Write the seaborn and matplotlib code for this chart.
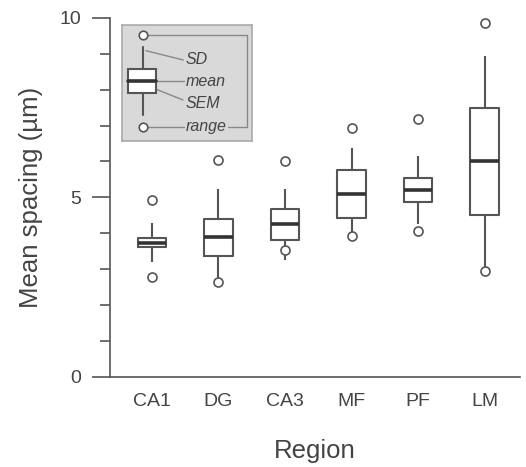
import numpy as np
import pandas as pd
import matplotlib
matplotlib.use("Agg")
import matplotlib.pyplot as plt
from matplotlib.ticker import MultipleLocator
import seaborn as sns

regions = ["CA1", "DG", "CA3", "MF", "PF", "LM"]
means = [3.73, 3.88, 4.24, 5.09, 5.20, 6.00]
sems = [0.125, 0.525, 0.44, 0.665, 0.33, 1.50]
sds = [0.55, 1.35, 0.98, 1.27, 0.96, 2.95]
mins = [2.78, 2.63, 3.52, 3.91, 4.07, 2.93]
maxs = [4.91, 6.04, 6.00, 6.93, 7.18, 9.85]

sns.set_theme(style="ticks")
plt.rcParams["font.family"] = ["Liberation Sans", "DejaVu Sans"]
TXT = "#444444"
LN = "#555555"

rows = []
for r, m, se, sd in zip(regions, means, sems, sds):
    for v in (m - sd, m - se, m, m + se, m + sd):
        rows.append({"Region": r, "value": v})
box_df = pd.DataFrame(rows)
rng_df = pd.DataFrame({"Region": regions * 2, "value": mins + maxs})

fig = plt.figure(figsize=(5.26, 4.67), dpi=100)
ax = fig.add_axes([110 / 526, (467 - 376.5) / 467, 410 / 526, 358.5 / 467])

sns.boxplot(data=box_df, x="Region", y="value", order=regions, whis=(0, 100),
            width=0.43, showcaps=False, fill=False, color=LN, linewidth=1.5,
            medianprops=dict(color="#333333", linewidth=2.6), ax=ax)
sns.stripplot(data=rng_df, x="Region", y="value", order=regions, jitter=False,
              color="white", edgecolor=LN, linewidth=1.2, size=6.5, ax=ax, zorder=5)

ax.set_xlim(-0.63, 5.53)
ax.set_ylim(0, 10)
ax.set_yticks([0, 5, 10])
ax.yaxis.set_minor_locator(MultipleLocator(1))
sns.despine(ax=ax)
for s in ("left", "bottom"):
    ax.spines[s].set_color(LN)
    ax.spines[s].set_linewidth(1.2)
ax.tick_params(axis="y", which="major", length=13, width=1.2, color=LN,
               labelsize=14, labelcolor=TXT, pad=8)
ax.tick_params(axis="y", which="minor", length=7.5, width=1.2, color=LN)
ax.tick_params(axis="x", length=0, labelsize=14, labelcolor=TXT, pad=12)
ax.set_ylabel("Mean spacing (µm)", fontsize=18.5, color=TXT)
ax.set_xlabel("Region", fontsize=18.5, color=TXT, va="top")
ax.yaxis.set_label_coords(-0.163, 0.5)
ax.xaxis.set_label_coords(0.5, -0.175)

# inset key
W, H = 130, 115.7
ins = fig.add_axes([121.7 / 526, (467 - 25 - H) / 467, W / 526, H / 467])
ins.set_xlim(0, W)
ins.set_ylim(H, 0)
ins.set_xticks([])
ins.set_yticks([])
ins.set_facecolor("#d9d9d9")
for s in ins.spines.values():
    s.set_color("#aaaaaa")
    s.set_linewidth(1.2)
cx = 20.8
con = dict(color="#888888", lw=1.0)
ins.plot([cx, 125, 125, 106], [10, 10, 102.3, 102.3], **con)
ins.plot([cx, 62], [102.3, 102.3], **con)
ins.plot([24.3, 61.6], [25.7, 35], **con)
ins.plot([34.3, 62], [56, 56], **con)
ins.plot([31.3, 61.3], [63, 75], **con)
ins.plot([cx, cx], [22, 44.3], color=LN, lw=1.5)
ins.plot([cx, cx], [68.3, 90], color=LN, lw=1.5)
ins.add_patch(plt.Rectangle((6.6, 44.3), 27.7, 24, facecolor="white",
                            edgecolor=LN, lw=1.5, zorder=3))
ins.plot([6.6, 34.3], [56, 56], color="#333333", lw=2.6, zorder=4)
ins.scatter([cx, cx], [10, 102.3], s=38, facecolor="white", edgecolor=LN,
            linewidth=1.2, zorder=5)
for t, y in (("SD", 35), ("mean", 56.5), ("SEM", 79), ("range", 102)):
    ins.text(64, y, t, fontsize=11.5, style="italic", color=TXT, va="center",
             ha="left", zorder=6,
             bbox=dict(facecolor="#d9d9d9", edgecolor="none", pad=0.5) if t == "range" else None)

fig.savefig("out.png", dpi=100, facecolor="white")
